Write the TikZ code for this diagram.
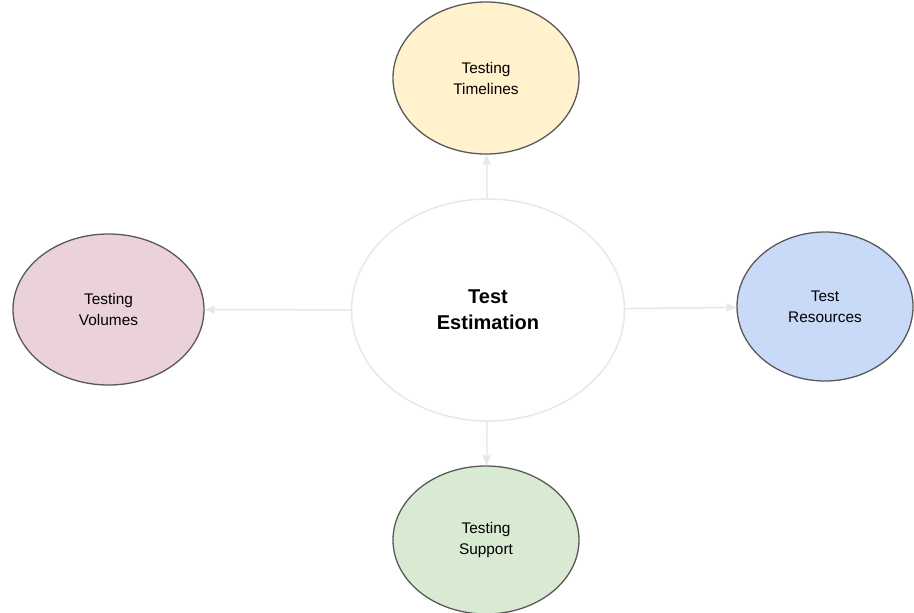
\documentclass[tikz,border=0pt]{standalone}
\usepackage{fontspec}
\setmainfont{Liberation Sans}
\usepackage{xcolor}
\usepackage{tikz}
\usetikzlibrary{shapes.geometric}
\usetikzlibrary{arrows.meta}

\definecolor{timesfill}{HTML}{FFF2CC}
\definecolor{volfill}{HTML}{EAD1DC}
\definecolor{resfill}{HTML}{C9DAF8}
\definecolor{supfill}{HTML}{D9EAD3}
\definecolor{rimgray}{HTML}{595959}
\definecolor{linkgray}{HTML}{E8E8E8}

\tikzset{
    topic/.style={ellipse, draw=rimgray, line width=1.3pt, inner sep=0pt, align=center,
        font=\fontsize{15.4}{21}\selectfont},
    hub/.style={ellipse, draw=linkgray, line width=1.5pt, fill=white, inner sep=0pt, align=center,
        font=\fontsize{20}{26}\selectfont\bfseries},
    link/.style={draw=linkgray, line width=1.5pt, -{Triangle[length=10pt, width=8pt]}}
}

\begin{document}
\begin{tikzpicture}[x=1pt, y=-1pt]
    \useasboundingbox (0,0) rectangle (914,613);

    \node[hub, minimum width=273pt, minimum height=222pt] (est) at (488,310) {Test\\Estimation};

    \foreach \coord/\name/\col/\w/\h/\upper/\lower in {
        {486,78}/time/timesfill/186/152/Testing/Timelines,
        {108.5,309.5}/vol/volfill/191/151/Testing/Volumes,
        {825,306.5}/res/resfill/176/149/Test/Resources,
        {486,540}/sup/supfill/186/148/Testing/Support
    }{
        \node[topic, fill=\col, minimum width=\w pt, minimum height=\h pt] (\name) at (\coord) {\upper\\\lower};
    }

    \foreach \name in {time, vol, res, sup}{
        \draw[link] (est) -- (\name);
    }

\end{tikzpicture}
\end{document}
